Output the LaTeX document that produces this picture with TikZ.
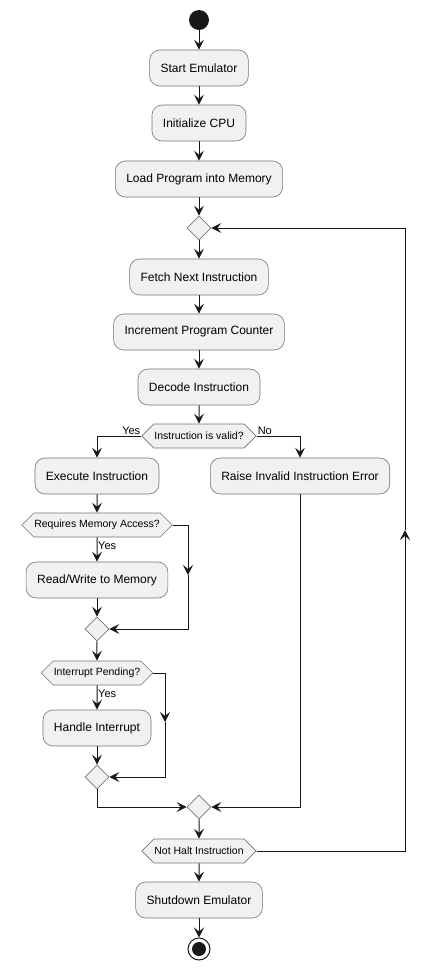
\documentclass[tikz,border=0pt]{standalone}
\usepackage{fontspec}
\setmainfont{Liberation Sans}
\usetikzlibrary{arrows.meta,shapes.symbols,shapes.geometric}
\definecolor{boxfill}{HTML}{F1F1F1}
\definecolor{lineclr}{HTML}{181818}
\tikzset{
  act/.style={rectangle, rounded corners=10pt, draw=lineclr!60, line width=0.6pt,
    fill=boxfill, minimum height=36pt, inner xsep=11pt,
    font=\fontsize{12}{14}\selectfont},
  merge/.style={diamond, draw=lineclr!60, line width=0.6pt, fill=boxfill,
    minimum size=24pt, inner sep=0pt},
  cond/.style={signal, signal to=west and east, draw=lineclr!60, line width=0.6pt,
    fill=boxfill, minimum height=24pt, inner xsep=0.5pt,
    font=\fontsize{10.5}{12.5}\selectfont},
  flow/.style={draw=lineclr, line width=1pt,
    -{Stealth[length=10pt,width=10pt,inset=4pt]}},
  lbl/.style={font=\fontsize{11}{13}\selectfont, inner sep=1pt}
}
\begin{document}
\begin{tikzpicture}
  \useasboundingbox (0,0) rectangle (429pt,-970pt);
  % main column
  \node[circle, fill=lineclr, minimum size=20pt, inner sep=0pt] (start) at (199pt,-20pt) {};
  \node[act] (emu) at (199pt,-68pt) {Start Emulator};
  \node[act] (cpu) at (199pt,-123pt) {Initialize CPU};
  \node[act] (load) at (199pt,-179pt) {Load Program into Memory};
  \node[merge] (loop) at (199pt,-228pt) {};
  \node[act] (fetch) at (199pt,-277pt) {Fetch Next Instruction};
  \node[act] (incpc) at (199pt,-332pt) {Increment Program Counter};
  \node[act] (decode) at (199pt,-387pt) {Decode Instruction};
  \node[cond] (valid) at (199pt,-436pt) {Instruction is valid?};
  % branches
  \node[act] (exec) at (97pt,-476pt) {Execute Instruction};
  \node[act] (raise) at (300pt,-476pt) {Raise Invalid Instruction Error};
  \node[cond] (memq) at (97pt,-525pt) {Requires Memory Access?};
  \node[act] (rw) at (97pt,-580pt) {Read/Write to Memory};
  \node[merge] (memend) at (97pt,-629pt) {};
  \node[cond] (irqq) at (97pt,-673pt) {Interrupt Pending?};
  \node[act] (irq) at (97pt,-728pt) {Handle Interrupt};
  \node[merge] (irqend) at (97pt,-777pt) {};
  \node[merge] (join) at (199pt,-807pt) {};
  \node[cond] (halt) at (199pt,-851pt) {Not Halt Instruction};
  \node[act] (shut) at (199pt,-900pt) {Shutdown Emulator};
  \node[circle, draw=lineclr, line width=1pt, fill=white, minimum size=22pt,
    inner sep=0pt] (stop) at (199pt,-949pt) {};
  \fill[lineclr] (stop) circle (7pt);
  % helper points
  \coordinate (memskip) at (188pt,-575pt);
  \coordinate (irqskip) at (165pt,-722pt);
  \coordinate (back) at (405pt,-530pt);
  % connectors
  \draw[flow] (start) -- (emu);
  \draw[flow] (emu) -- (cpu);
  \draw[flow] (cpu) -- (load);
  \draw[flow] (load) -- (loop);
  \draw[flow] (loop) -- (fetch);
  \draw[flow] (fetch) -- (incpc);
  \draw[flow] (incpc) -- (decode);
  \draw[flow] (decode) -- (valid);
  \draw[flow] (valid.west) -| (exec.north);
  \node[lbl, anchor=south east] (yes1) at (valid.west) {Yes};
  \draw[flow] (valid.east) -| (raise.north);
  \node[lbl, anchor=south west] (no1) at (valid.east) {No};
  \draw[flow] (exec) -- (memq);
  \draw[flow] (memq) -- (rw);
  \node[lbl, anchor=north west, yshift=-3pt] (yes2) at (memq.south) {Yes};
  \draw[flow] (memq.east) -| (memskip);
  \draw[flow] (memskip) |- (memend.east);
  \draw[flow] (rw) -- (memend);
  \draw[flow] (memend) -- (irqq);
  \draw[flow] (irqq) -- (irq);
  \node[lbl, anchor=north west, yshift=-3pt] (yes3) at (irqq.south) {Yes};
  \draw[flow] (irqq.east) -| (irqskip);
  \draw[flow] (irqskip) |- (irqend.east);
  \draw[flow] (irq) -- (irqend);
  \draw[flow] (irqend.south) |- (join.west);
  \draw[flow] (raise.south) |- (join.east);
  \draw[flow] (join) -- (halt);
  \draw[flow] (halt.east) -| (back);
  \draw[flow] (back) |- (loop.east);
  \draw[flow] (halt) -- (shut);
  \draw[flow] (shut) -- (stop);
\end{tikzpicture}
\end{document}
